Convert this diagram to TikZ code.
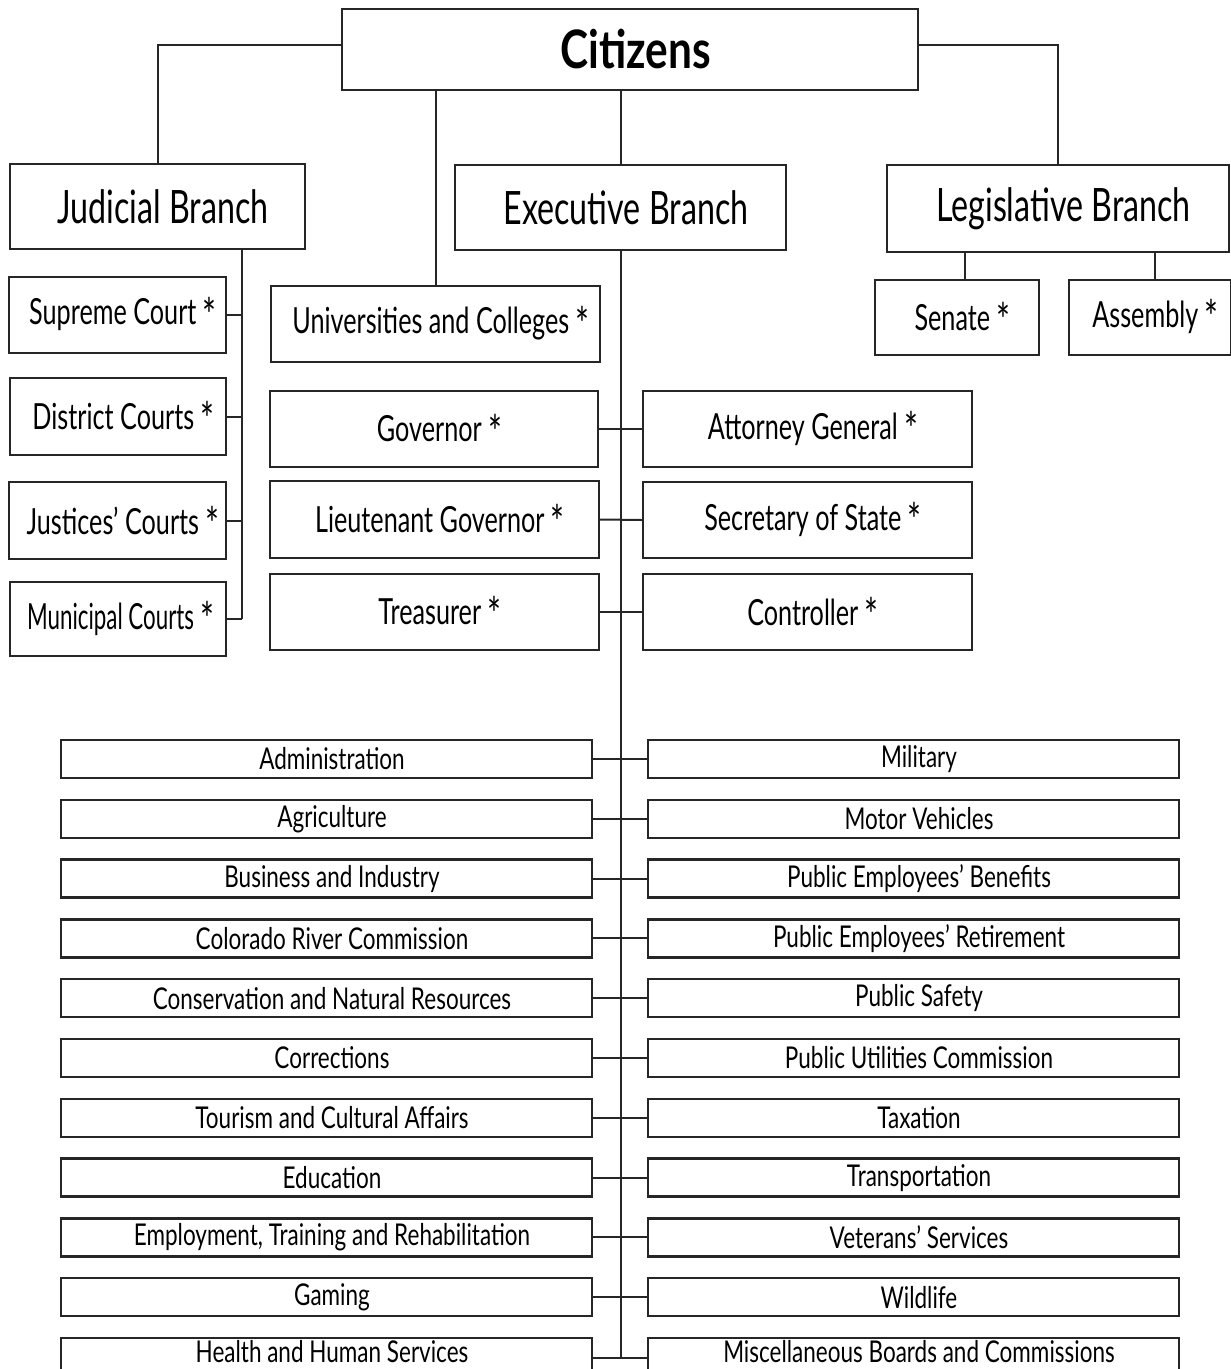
\documentclass[tikz,border=0pt]{standalone}
\usepackage{fontspec}
\usepackage{graphicx}
\setmainfont{Lato}[FakeStretch=0.70]
\newfontfamily\lowf{Lato}[FakeStretch=0.75]
\newfontfamily\narf{Lato}[FakeStretch=0.62]
\newfontfamily\citf{Lato}[FakeStretch=0.80]
\newcommand\stari{\smash{\raisebox{-0.2em}{\scalebox{1.3}{*}}}}
\newcommand\tx[1]{\hspace*{11pt}#1}
\begin{document}
\begin{tikzpicture}[x=1pt,y=-1pt,
  box/.style={draw=black!85,line width=2.4pt,inner sep=0pt,fill=white},
  conn/.style={draw=black!85,line width=2pt},
  big/.style={font=\fontsize{46}{50}\selectfont},
  mid/.style={font=\fontsize{36}{40}\selectfont},
  small/.style={font=\lowf\fontsize{30}{34}\selectfont},
  lastrow/.style={text height=22pt,text depth=22pt}]
\useasboundingbox (0,0) rectangle (1231,1369);
\newcommand\bx[7]{\node[box,#6,minimum width={#4pt-#2pt},minimum height={#5pt-#3pt}] (#1) at ({(#2+#4)/2},{(#3+#5)/2}) {\tx{#7}};}
% top level
\bx{cit}{342}{9}{918}{90}{font=\citf\fontsize{53}{56}\selectfont\bfseries}{Citizens}
\bx{jud}{10}{164}{305}{249}{big}{Judicial Branch}
\bx{exe}{455}{165}{786}{250}{big}{Executive Branch}
\bx{leg}{887}{165}{1229}{252}{big}{Legislative Branch}
% judicial
\bx{sup}{9}{277}{226}{353}{mid}{Supreme Court \stari}
\bx{dis}{10}{378}{226}{455}{mid}{District Courts \stari}
\bx{jus}{9}{482}{226}{559}{mid}{Justices’ Courts \stari}
\bx{mun}{10}{582}{226}{656}{mid}{\hspace*{-6pt}{\narf Municipal Courts}\,\stari}
% legislative
\bx{sen}{875}{280}{1039}{355}{mid}{Senate \stari}
\bx{asm}{1069}{280}{1231}{355}{mid}{Assembly \stari}
% executive officers
\bx{uni}{271}{286}{600}{362}{mid}{Universities and Colleges \stari}
\bx{gov}{270}{391}{598}{467}{mid}{Governor \stari}
\bx{atg}{643}{391}{972}{467}{mid}{Attorney General \stari}
\bx{ltg}{270}{481}{599}{558}{mid}{Lieutenant Governor \stari}
\bx{sos}{643}{482}{972}{558}{mid}{Secretary of State \stari}
\bx{tre}{270}{574}{599}{650}{mid}{Treasurer \stari}
\bx{con}{643}{574}{972}{650}{mid}{Controller \stari}
% departments
\foreach \i/\l/\r in {0/Administration/Military,
  1/Agriculture/Motor Vehicles,
  2/Business and Industry/Public Employees’ Benefits,
  3/Colorado River Commission/Public Employees’ Retirement,
  4/Conservation and Natural Resources/Public Safety,
  5/Corrections/Public Utilities Commission,
  6/Tourism and Cultural Affairs/Taxation,
  7/Education/Transportation,
  8/{Employment, Training and Rehabilitation}/Veterans’ Services,
  9/Gaming/Wildlife}{
  \pgfmathsetmacro\t{740+59.8*\i}
  \pgfmathsetmacro\b{\t+38}
  \bx{L\i}{61}{\t}{592}{\b}{small}{\l}
  \bx{R\i}{648}{\t}{1179}{\b}{small}{\r}
  \draw[conn] (L\i.east) -- (R\i.west);
}
\bx{L10}{61}{1338}{592}{1386}{small,lastrow}{Health and Human Services}
\bx{R10}{648}{1338}{1179}{1386}{small,lastrow}{Miscellaneous Boards and Commissions}
\coordinate (lastc) at (0,1358);
\draw[conn] (L10.east |- lastc) -- (R10.west |- lastc);
% connectors
\draw[conn] ([yshift=4.5pt]cit.west) -| (jud.north);
\draw[conn] ([yshift=4.5pt]cit.east) -| (leg.north);
\draw[conn] (exe.north |- cit.south) -- (exe.north);
\draw[conn] (uni.north |- cit.south) -- (uni.north);
\coordinate (jsp) at (242,0);
\draw[conn] (jsp |- jud.south) -- (jsp |- mun.east);
\foreach \n in {sup,dis,jus,mun} \draw[conn] (\n.east) -- (\n.east -| jsp);
\draw[conn] ([xshift=8pt]sen.north) -- ([xshift=8pt]sen.north |- leg.south);
\draw[conn] ([xshift=5pt]asm.north) -- ([xshift=5pt]asm.north |- leg.south);
\draw[conn] (exe.south) -- (exe.south |- lastc);
\draw[conn] (gov.east) -- (atg.west);
\draw[conn] (ltg.east) -- (sos.west);
\draw[conn] (tre.east) -- (con.west);
\end{tikzpicture}
\end{document}
